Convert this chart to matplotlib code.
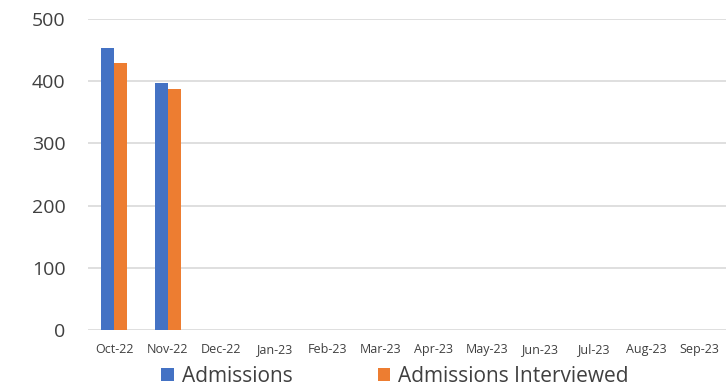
import numpy as np
import matplotlib.pyplot as plt

months = ["Oct-22", "Nov-22", "Dec-22", "Jan-23", "Feb-23", "Mar-23",
          "Apr-23", "May-23", "Jun-23", "Jul-23", "Aug-23", "Sep-23"]
admissions = [454, 397, 0, 0, 0, 0, 0, 0, 0, 0, 0, 0]
interviewed = [430, 388, 0, 0, 0, 0, 0, 0, 0, 0, 0, 0]
y_ticks = [0, 100, 200, 300, 400, 500]

plt.rcParams['font.family'] = ['Open Sans', 'DejaVu Sans']

fig = plt.figure(figsize=(7.26, 3.88), dpi=100)
ax = fig.add_axes([0.121, 0.149, 0.879, 0.802])

x = np.arange(len(months))
w = 0.245
ax.bar(x - w / 2, admissions, w, color="#4472C4", label="Admissions", zorder=3)
ax.bar(x + w / 2, interviewed, w, color="#ED7D31", label="Admissions Interviewed", zorder=3)

ax.set_xlim(-0.5, len(months) - 0.5)
ax.set_ylim(0, 500)
ax.set_yticks(y_ticks)
ax.set_xticks(x)
ax.set_xticklabels(months, fontsize=9, color="#404040")
ax.tick_params(axis='y', labelsize=14, colors="#404040", length=0, pad=16)
ax.tick_params(axis='x', length=0, pad=9)
ax.grid(axis='y', color="#D9D9D9", linewidth=1.2, zorder=0)
ax.set_axisbelow(True)
for s in ax.spines.values():
    s.set_visible(False)

fig.legend(*ax.get_legend_handles_labels(), loc="center", bbox_to_anchor=(0.544, 0.03),
           ncol=2, frameon=False, fontsize=15, handlelength=0.6, handleheight=0.6,
           handletextpad=0.38, columnspacing=4.1, labelcolor="#404040",
           borderpad=0, borderaxespad=0)

plt.savefig("out.png", dpi=100)
